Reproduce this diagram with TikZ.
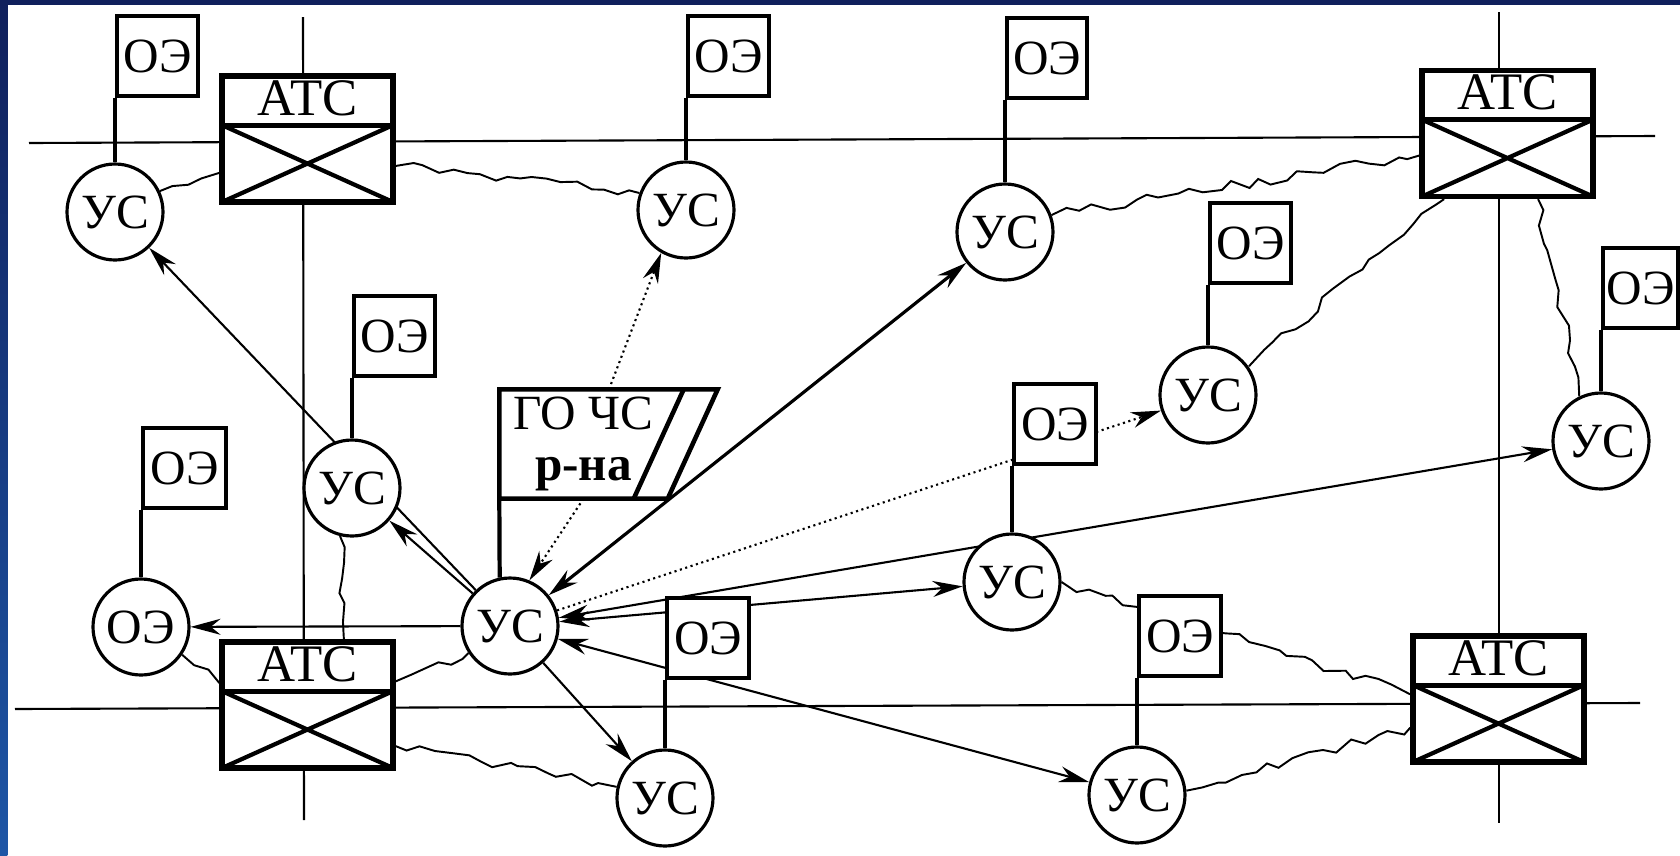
\documentclass[tikz,border=0pt]{standalone}
\usepackage{fontspec}
\setmainfont{Liberation Serif}
\newfontfamily\diagfont{Liberation Serif}
\usepackage{tikz}
\usetikzlibrary{arrows.meta,positioning,calc,decorations.pathmorphing}
\definecolor{framenavy}{HTML}{10205C}
\definecolor{frameblue}{HTML}{1E56A6}
\pgfdeclarelayer{backdrop}
\pgfdeclarelayer{edges}
\pgfsetlayers{backdrop,edges,main}

\begin{document}
\begin{tikzpicture}[x=0.1mm, y=-0.1mm,
        us/.style={circle, draw, line width=0.9pt, fill=white, minimum size=9.6mm, inner sep=0pt, font=\diagfont\fontsize{14}{14}\selectfont},
        oebox/.style={draw, line width=1.2pt, fill=white, minimum height=8mm, inner sep=0pt, font=\diagfont\fontsize{14}{14}\selectfont},
        pole/.style={line width=1.2pt},
        atc/.style={draw, line width=1.5pt, fill=white, minimum width=17.1mm, inner xsep=0pt, inner ysep=0.3mm,
            text height=3.6mm, text depth=8.4mm, font=\diagfont\fontsize{15}{15}\selectfont,
            path picture={
                \draw[line width=1.5pt] ($(path picture bounding box.north west)!0.39!(path picture bounding box.south west)$) coordinate (atcdl)
                    -- ($(path picture bounding box.north east)!0.39!(path picture bounding box.south east)$) coordinate (atcdr);
                \draw[line width=1.2pt] (atcdl) -- (path picture bounding box.south east)
                    (atcdr) -- (path picture bounding box.south west);
            }},
        gochs/.style={minimum width=16.7mm, minimum height=10.8mm, inner sep=0pt, align=center, font=\diagfont\fontsize{14}{14.5}\selectfont},
        gochsline/.style={line width=1.3pt, line join=miter},
        axisline/.style={line width=0.6pt},
        link/.style={line width=0.6pt, -{Stealth[length=3mm, width=1.6mm]}},
        duplex/.style={line width=0.6pt, {Stealth[length=3mm, width=1.6mm]}-{Stealth[length=3mm, width=1.6mm]}},
        hint/.style={line width=0.6pt, densely dotted, -{Stealth[length=3mm, width=1.6mm]}},
        wire/.style={line width=0.55pt, decorate, decoration={random steps, segment length=1.4mm, amplitude=0.5mm}}
    ]
        \pgfmathsetseed{7}
        \useasboundingbox (0,0) rectangle (1680,856);

        \begin{pgfonlayer}{backdrop}
            \fill[white] (0,0) rectangle (1680,856);
            \fill[framenavy] (0,0) rectangle (1680,5);
            \shade[top color=framenavy, bottom color=frameblue] (0,0) rectangle (7.5,856);
        \end{pgfonlayer}

        \node[atc] (atcA) at (307.5,139) {АТС};
        \node[atc] (atcB) at (1507.5,133.5) {АТС};
        \node[atc] (atcC) at (307.5,705) {АТС};
        \node[atc] (atcD) at (1498.5,699) {АТС};

        \node[us] (usA) at (115,212) {УС};
        \node[us] (usB) at (686,210) {УС};
        \node[us] (usC) at (1005,232) {УС};
        \node[us] (usD) at (352,488) {УС};
        \node[us] (usE) at (510,626) {УС};
        \node[us] (usF) at (1208,395) {УС};
        \node[us] (usG) at (1012,582) {УС};
        \node[us] (usH) at (1601,441) {УС};
        \node[us] (usI) at (665,798) {УС};
        \node[us] (usJ) at (1137,795) {УС};
        \node[us] (oeEnd) at (141,627) {ОЭ};

        \foreach \us/\flag/\len/\wid in {usA/flagA/6.4/8.1, usB/flagB/6.2/8.1, usC/flagC/8.2/8.0,
                usD/flagD/6.0/8.1, oeEnd/flagEnd/6.7/8.3, usF/flagF/6.0/8.1, usG/flagG/6.6/8.2,
                usH/flagH/6.1/7.5, usI/flagI/6.8/8.2, usJ/flagJ/6.7/8.2}
        {
            \node[oebox, minimum width=\wid mm, above right=\len mm and 0mm of \us.north] (\flag) {ОЭ};
            \draw[pole] (\us.north) -- (\flag.south west);
        }

        \node[gochs] (gochs) at (583.5,444) {ГО ЧС\\\textbf{р-на}};
        \draw[gochsline] (gochs.north west) -- ($(gochs.north east)+(50,0)$) -- (gochs.south east) -- (gochs.south west) -- cycle;
        \draw[gochsline] ($(gochs.north east)+(16,0)$) -- ($(gochs.south east)+(-34,0)$);
        \draw[pole] (gochs.south west) -- (usE.102);

        \coordinate (gridW) at (29,143);
        \coordinate (gridE) at (1655,136);
        \coordinate (gridSW) at (15,709);
        \coordinate (gridSE) at (1640,703);
        \coordinate (gridNL) at (303,17);
        \coordinate (gridBL) at (304,820);
        \coordinate (gridNR) at (1499,12);
        \coordinate (gridBR) at (1499,823);

        \begin{pgfonlayer}{edges}
            \draw[axisline] (gridW) -- (gridE);
            \draw[axisline] (gridSW) -- (gridSE);
            \draw[axisline] (gridNL) -- (gridBL);
            \draw[axisline] (gridNR) -- (gridBR);

            \draw[link] (usE) -- (usA);
            \draw[link] (usE) -- (usD);
            \draw[link] (usE) -- (oeEnd);
            \draw[link] (usE) -- (usI);
            \draw[duplex, line width=0.9pt] (usE) -- (usC);
            \draw[duplex] (usE) -- (usG);
            \draw[duplex] (usE) -- (usH);
            \draw[duplex] (usE) -- (usJ);
            \draw[hint] (usE) -- (usF);
            \draw[hint] (gochs.65) -- (usB.240);
            \draw[hint] (gochs.south) -- (usE.67);

            \draw[wire] (usA.25) -- (atcA.201);
            \draw[wire] (atcA.343) -- (usB.160);
            \draw[wire] (usC.20) -- (atcB.194);
            \draw[wire] (atcB.226) -- (usF.35);
            \draw[wire] (atcB.295) -- (usH.116);
            \draw[wire] (usD.256) -- (atcC.61);
            \draw[wire] (oeEnd.326) -- (atcC.166);
            \draw[wire] (atcC.15) -- (usE.213);
            \draw[wire] (atcC.335) -- (usI.167);
            \draw[wire] (usG.0) -- (atcD.177);
            \draw[wire] (usJ.5) -- (atcD.198);
        \end{pgfonlayer}
    \end{tikzpicture}
\end{document}
